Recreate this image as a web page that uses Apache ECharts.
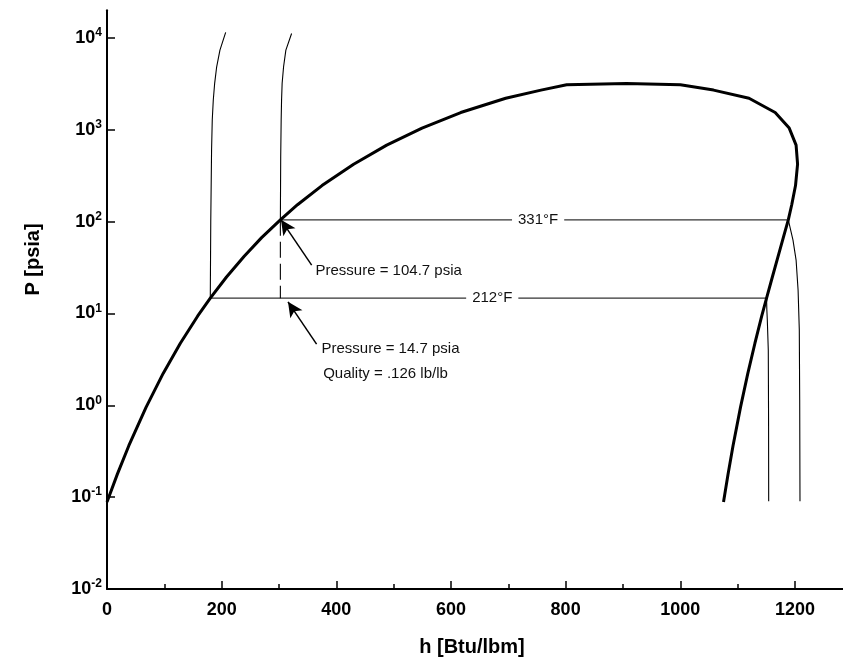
<!DOCTYPE html>
<html>
<head>
<meta charset="utf-8">
<script src="https://cdn.jsdelivr.net/npm/echarts@6/dist/echarts.min.js"></script>
<style>
  html, body { margin: 0; padding: 0; background: #fff; }
  #chart { width: 843px; height: 662px; }
</style>
</head>
<body>
<div id="chart"></div>
<script>
// saturation table: T [F], P [psia], hf / hg [Btu/lbm]
const satT  = [32, 50, 70, 100, 130, 160, 190, 212, 240, 270, 300, 331, 360, 400, 450, 500, 550, 600, 650, 680, 700, 705.47]
const satP  = [0.0887, 0.1781, 0.3632, 0.9503, 2.225, 4.745, 9.346, 14.7, 24.97, 41.85, 67.01, 104.7, 153.0, 247.3, 422.6, 680.8, 1045.2, 1542.9, 2208.4, 2708, 3094.3, 3203.6]
const satHf = [0, 18.07, 38.05, 68.05, 97.97, 127.94, 158.0, 180.17, 208.45, 238.95, 269.7, 302.4, 332.3, 375.0, 430.2, 487.9, 549.5, 617.0, 695.5, 757, 801.8, 906.0]
const satHg = [1075.4, 1083.3, 1092.0, 1105.0, 1117.8, 1130.2, 1142.0, 1150.5, 1160.6, 1170.6, 1179.7, 1188.4, 1194.4, 1201.0, 1204.6, 1202.0, 1190.0, 1165.5, 1119.9, 1058, 1000.1, 906.0]

// 212 F isotherm, compressed liquid and superheated parts
const liq212H = [207, 197, 191.3, 187.8, 185.4, 183.6, 182.4, 181, 180.17]
const liq212P = [11500, 7380, 4860, 3210, 2110, 1277, 600, 100, 14.7]
const vap212H = [1150.5, 1151, 1151.8, 1153.5, 1154, 1154.2]
const vap212P = [14.7, 10.9, 8.5, 4.0, 0.69, 0.09]

// 331 F isotherm
const liq331H = [322, 312, 308, 305.5, 304.5, 303.8, 303, 302.4]
const liq331P = [11200, 7380, 4860, 3210, 2110, 1277, 500, 104.7]
const vap331H = [1188.4, 1196.6, 1202, 1205.5, 1207.6, 1208.3, 1208.8]
const vap331P = [104.7, 63, 38.2, 17.9, 6.6, 1.14, 0.09]

// throttling 104.7 -> 14.7 psia at constant h
const throttleH = [302.4, 302.4]
const throttleP = [104.7, 14.7]

// isotherm labels
const isoNames = ['212°F', '331°F']
const isoLabelH = [672, 752]
const isoLabelP = [14.7, 104.7]

// annotations
const noteText = ['Pressure = 104.7 psia', 'Pressure = 14.7 psia', 'Quality = .126 lb/lb']
const noteH = [362.8, 373.3, 376.2]
const noteP = [29.0, 4.1, 2.19]
const arrowFromH = [357, 365.6]
const arrowFromP = [33.6, 4.64]
const arrowToH = [303.5, 315.7]
const arrowToP = [104.7, 13.4]

const FONT = 'Liberation Sans, Arial, sans-serif'

const pts = (hs, ps) => hs.map((h, i) => [h, ps[i]])
const i212 = satT.indexOf(212)
const i331 = satT.indexOf(331)

const domeData = pts(satHf, satP).concat(pts(satHg, satP).reverse())

const thin = (name, data, extra) => Object.assign({
  name: name,
  type: 'line',
  xAxisIndex: 0,
  yAxisIndex: 0,
  data: data,
  symbol: 'none',
  silent: true,
  lineStyle: { color: '#000', width: 1.1 },
  z: 2
}, extra || {})

const chart = echarts.init(document.getElementById('chart'))

const option = {
  animation: false,
  backgroundColor: '#fff',
  grid: [
    { left: 107, width: 802.6, top: 10.36, bottom: 73, outerBoundsMode: 'none', containLabel: false },
    { left: 107, width: 730, top: 38, bottom: 73, outerBoundsMode: 'none', containLabel: false }
  ],
  xAxis: [
    {
      gridIndex: 0,
      type: 'value',
      min: 0,
      max: 1400,
      interval: 200,
      axisLine: { onZero: false, lineStyle: { color: '#000', width: 2 } },
      axisTick: { inside: true, length: 8, lineStyle: { color: '#000', width: 1.5 } },
      minorTick: { show: true, splitNumber: 2, length: 5, lineStyle: { color: '#000', width: 1.5 } },
      axisLabel: {
        color: '#000', fontFamily: FONT, fontSize: 18, fontWeight: 'bold', margin: 12, showMaxLabel: false,
        formatter: v => String(v)
      },
      splitLine: { show: false }
    },
    {
      gridIndex: 1,
      type: 'value',
      min: 0,
      max: 1400,
      axisLine: { show: false },
      axisTick: { show: false },
      axisLabel: { show: false },
      splitLine: { show: false },
      name: 'h [Btu/lbm]',
      nameLocation: 'middle',
      nameGap: 48,
      nameTextStyle: { color: '#000', fontFamily: FONT, fontSize: 20, fontWeight: 'bold' }
    }
  ],
  yAxis: [
    {
      gridIndex: 0,
      type: 'log',
      logBase: 10,
      min: 0.01,
      max: 20000,
      axisLine: { show: true, lineStyle: { color: '#000', width: 2 } },
      axisTick: { show: false },
      axisLabel: { show: false },
      splitLine: { show: false }
    },
    {
      gridIndex: 1,
      type: 'log',
      logBase: 10,
      min: 0.01,
      max: 10000,
      splitNumber: 6,
      axisLine: { show: false },
      axisTick: { show: true, inside: true, length: 8, lineStyle: { color: '#000', width: 1.5 } },
      axisLabel: {
        color: '#000',
        fontFamily: FONT,
        fontSize: 18,
        fontWeight: 'bold',
        margin: 5,
        lineHeight: 22,
        formatter: v => '10{sup|' + Math.round(Math.log10(v)) + '}',
        rich: {
          sup: { fontFamily: FONT, fontSize: 12, fontWeight: 'bold', color: '#000', verticalAlign: 'top', lineHeight: 12 }
        }
      },
      splitLine: { show: false },
      name: 'P [psia]',
      nameLocation: 'middle',
      nameGap: 64,
      nameTextStyle: { color: '#000', fontFamily: FONT, fontSize: 20, fontWeight: 'bold', padding: [0, 0, 0, 108] }
    }
  ],
  series: [
    thin('dome', domeData, { lineStyle: { color: '#000', width: 3 }, z: 4 }),
    thin('212 liquid', pts(liq212H, liq212P)),
    thin('212 two-phase', [[satHf[i212], satP[i212]], [satHg[i212], satP[i212]]], { lineStyle: { color: '#333', width: 1.2 } }),
    thin('212 vapor', pts(vap212H, vap212P)),
    thin('331 liquid', pts(liq331H, liq331P)),
    thin('331 two-phase', [[satHf[i331], satP[i331]], [satHg[i331], satP[i331]]], { lineStyle: { color: '#333', width: 1.2 } }),
    thin('331 vapor', pts(vap331H, vap331P)),
    thin('throttle', pts(throttleH, throttleP), { lineStyle: { color: '#000', width: 1.1, type: [16, 6] } }),
    {
      name: 'iso labels',
      type: 'scatter',
      xAxisIndex: 0,
      yAxisIndex: 0,
      silent: true,
      symbol: 'circle',
      symbolSize: 1,
      itemStyle: { color: '#fff', opacity: 1 },
      z: 5,
      data: isoNames.map((n, i) => ({ name: n, value: [isoLabelH[i], isoLabelP[i]] })),
      label: {
        show: true,
        position: 'inside',
        formatter: p => p.name,
        color: '#111',
        fontFamily: FONT,
        fontSize: 15,
        backgroundColor: '#fff',
        padding: [2, 6]
      }
    },
    {
      name: 'notes',
      type: 'scatter',
      xAxisIndex: 0,
      yAxisIndex: 0,
      silent: true,
      symbol: 'circle',
      symbolSize: 1,
      itemStyle: { color: '#fff', opacity: 1 },
      z: 5,
      data: noteText.map((n, i) => ({ name: n, value: [noteH[i], noteP[i]] })),
      label: {
        show: true,
        position: 'right',
        distance: 0,
        formatter: p => p.name,
        color: '#111',
        fontFamily: FONT,
        fontSize: 15
      },
      markLine: {
        silent: true,
        animation: false,
        symbol: ['none', 'arrow'],
        symbolSize: [11, 15],
        label: { show: false },
        lineStyle: { color: '#000', width: 1.5, type: 'solid' },
        data: arrowFromH.map((h, i) => [
          { coord: [h, arrowFromP[i]] },
          { coord: [arrowToH[i], arrowToP[i]] }
        ])
      }
    }
  ]
}

chart.setOption(option)
</script>
</body>
</html>
